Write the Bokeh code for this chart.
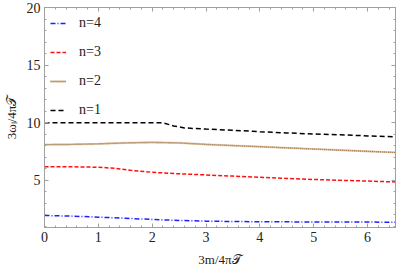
from bokeh.plotting import figure
from bokeh.models import Range1d, LinearAxis, Legend, LegendItem, SingleIntervalTicker, CustomJSTickFormatter
from bokeh.embed import file_html
from bokeh.resources import INLINE

# data
x1 = [0, 0.5, 1.0, 1.5, 2.0, 2.2, 2.4, 2.6, 3.0, 3.5, 4.0, 4.5, 5.0, 5.5, 6.0, 6.52]
y1 = [10.0, 10.0, 10.0, 10.0, 10.0, 10.0, 9.72, 9.55, 9.45, 9.35, 9.22, 9.12, 9.02, 8.95, 8.86, 8.78]

x2 = [0, 0.5, 1.0, 1.5, 2.0, 2.5, 3.0, 3.5, 4.0, 4.5, 5.0, 5.5, 6.0, 6.52]
y2 = [8.1, 8.12, 8.17, 8.25, 8.3, 8.25, 8.12, 8.02, 7.92, 7.82, 7.72, 7.62, 7.52, 7.42]

x3 = [0, 0.5, 1.0, 1.3, 1.6, 2.0, 2.5, 3.0, 3.5, 4.0, 4.5, 5.0, 5.5, 6.0, 6.52]
y3 = [6.18, 6.18, 6.14, 6.05, 5.87, 5.7, 5.57, 5.47, 5.37, 5.27, 5.17, 5.08, 5.0, 4.94, 4.86]

x4 = [0, 0.5, 1.0, 1.5, 2.0, 2.5, 3.0, 3.5, 4.0, 5.0, 6.0, 6.52]
y4 = [1.95, 1.9, 1.81, 1.71, 1.61, 1.52, 1.46, 1.43, 1.41, 1.39, 1.38, 1.37]

labels = ["n=4", "n=3", "n=2", "n=1"]

FONT = "Liberation Serif"
GRAY = "#a0a0a0"

p = figure(width=401, height=272, output_backend="svg", toolbar_location=None,
           x_range=Range1d(0, 6.52), y_range=Range1d(0.91, 20),
           min_border_left=36, min_border_right=6, min_border_top=7, min_border_bottom=45,
           x_axis_label="3m/4π𝒯", y_axis_label="3ωₗ/4π𝒯")
p.grid.visible = False
p.outline_line_color = GRAY
p.background_fill_color = "white"
p.border_fill_color = "white"

r4 = p.line(x4, y4, line_color="#2020ff", line_width=1.5, line_dash="5 2 1 2")
r3 = p.line(x3, y3, line_color="#ff1010", line_width=1.5, line_dash="4 2")
r2h = p.line(x2, y2, line_color="#dcc09a", line_width=2.2, line_alpha=0.6)
r2 = p.line(x2, y2, line_color="#93602f", line_width=1.4, line_dash="1 1")
r1 = p.line(x1, y1, line_color="black", line_width=1.5, line_dash="5 3")

xr = p.xaxis[0]
yr = p.yaxis[0]
xr.ticker = SingleIntervalTicker(interval=1, num_minor_ticks=5)
yr.ticker = SingleIntervalTicker(interval=5, num_minor_ticks=5)

blank = CustomJSTickFormatter(code="return ''")
top = LinearAxis(ticker=SingleIntervalTicker(interval=1, num_minor_ticks=5), formatter=blank)
right = LinearAxis(ticker=SingleIntervalTicker(interval=5, num_minor_ticks=5), formatter=blank)
p.add_layout(top, "above")
p.add_layout(right, "right")

for ax in [xr, yr, top, right]:
    ax.axis_line_color = GRAY
    ax.major_tick_line_color = GRAY
    ax.minor_tick_line_color = GRAY
    ax.major_tick_in = 4
    ax.major_tick_out = 0
    ax.minor_tick_in = 2
    ax.minor_tick_out = 0
    ax.major_label_text_font = FONT
    ax.major_label_text_font_size = "14px"
    ax.major_label_text_color = "#222222"
    ax.axis_label_text_font = FONT
    ax.axis_label_text_font_size = "13px"
    ax.axis_label_text_font_style = "normal"
    ax.axis_label_text_color = "#222222"

for ax in [top, right]:
    ax.major_label_standoff = 0

xr.major_label_standoff = 4
yr.major_label_standoff = 4
xr.axis_label_standoff = 7
yr.axis_label_standoff = 5

legend = Legend(items=[LegendItem(label=labels[0], renderers=[r4]),
                       LegendItem(label=labels[1], renderers=[r3]),
                       LegendItem(label=labels[2], renderers=[r2h, r2]),
                       LegendItem(label=labels[3], renderers=[r1])],
                location=(6, 107), margin=0, padding=2, spacing=9,
                glyph_width=16, glyph_height=20, label_height=20, label_standoff=13,
                border_line_color=None, background_fill_alpha=0,
                label_text_font=FONT, label_text_font_size="14px", label_text_color="#222222")
p.add_layout(legend)

open("out.html", "w").write(file_html(p, INLINE))
